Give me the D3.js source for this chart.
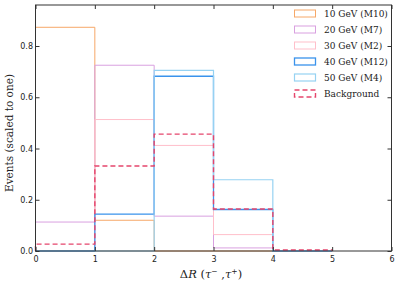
<!DOCTYPE html>
<html><head><meta charset="utf-8">
<script src="https://cdn.jsdelivr.net/npm/d3@7"></script>
<style>body{margin:0;background:#fff}</style>
</head><body>
<script>
const binEdges = [0, 1, 2, 3, 4, 5];
const seriesNames = ["10 GeV (M10)", "20 GeV (M7)", "30 GeV (M2)", "40 GeV (M12)", "50 GeV (M4)", "Background"];
const m10 = [0.873, 0.120, 0.0, 0.0, 0.0];
const m7  = [0.113, 0.725, 0.136, 0.012, 0.0];
const m2  = [0.0, 0.513, 0.412, 0.064, 0.0];
const m12 = [0.0, 0.144, 0.682, 0.162, 0.0];
const m4  = [0.0, 0.0, 0.705, 0.278, 0.0];
const bkg = [0.027, 0.332, 0.456, 0.164, 0.004];
const xTicks = [0, 1, 2, 3, 4, 5, 6];
const yTicks = [0.0, 0.2, 0.4, 0.6, 0.8];

const series = [
  {name: seriesNames[0], values: m10, color: "#f6a868", width: 1, dash: null},
  {name: seriesNames[1], values: m7,  color: "#d9a0e0", width: 1, dash: null},
  {name: seriesNames[2], values: m2,  color: "#ffbfca", width: 1, dash: null},
  {name: seriesNames[3], values: m12, color: "#3a93ec", width: 1.3, dash: null},
  {name: seriesNames[4], values: m4,  color: "#96d2f2", width: 1.2, dash: null},
  {name: seriesNames[5], values: bkg, color: "#e5456c", width: 1.4, dash: "5,3"}
];

const W = 399, H = 285;
const L = 35.5, R = 391.5, T = 5, B = 251;
const svg = d3.select("body").append("svg").attr("width", W).attr("height", H);
const x = d3.scaleLinear().domain([0, 6]).range([L, R]);
const y = d3.scaleLinear().domain([0, 0.96]).range([B, T]);

// histograms (step outlines)
series.forEach(s => {
  const pts = [[binEdges[0], 0]];
  s.values.forEach((v, i) => { pts.push([binEdges[i], v]); pts.push([binEdges[i+1], v]); });
  pts.push([binEdges[binEdges.length-1], 0]);
  svg.append("path")
    .attr("d", d3.line().x(d => x(d[0])).y(d => y(d[1]))(pts))
    .attr("fill", "none").attr("stroke", s.color).attr("stroke-width", s.width)
    .attr("stroke-dasharray", s.dash);
});

// frame
svg.append("rect").attr("x", L).attr("y", T).attr("width", R - L).attr("height", B - T)
  .attr("fill", "none").attr("stroke", "#333").attr("stroke-width", 1);

// ticks (inward, all sides)
const tickFont = "DejaVu Sans, sans-serif";
const xb = svg.append("g").attr("transform", `translate(0,${B})`)
  .call(d3.axisBottom(x).tickValues(xTicks).tickFormat(d3.format("d")).tickSizeInner(-4).tickSizeOuter(0).tickPadding(5));
const xt = svg.append("g").attr("transform", `translate(0,${T})`)
  .call(d3.axisTop(x).tickValues(xTicks).tickFormat("").tickSizeInner(-4).tickSizeOuter(0));
const yl = svg.append("g").attr("transform", `translate(${L},0)`)
  .call(d3.axisLeft(y).tickValues(yTicks).tickFormat(d3.format(".1f")).tickSizeInner(-4).tickSizeOuter(0).tickPadding(2.5));
const yr = svg.append("g").attr("transform", `translate(${R},0)`)
  .call(d3.axisRight(y).tickValues(yTicks).tickFormat("").tickSizeInner(-4).tickSizeOuter(0));
[xb, xt, yl, yr].forEach(g => {
  g.select(".domain").remove();
  g.selectAll("line").attr("stroke", "#333");
  g.selectAll("text").attr("font-family", tickFont).attr("font-size", 8).attr("fill", "#222");
});

// axis labels
const serif = "DejaVu Serif, Liberation Serif, serif";
const xl = svg.append("text").attr("x", 211).attr("y", 278).attr("text-anchor", "middle")
  .attr("font-family", serif).attr("font-size", 11.5).attr("fill", "#222");
xl.append("tspan").text("Δ");
xl.append("tspan").attr("font-style", "italic").text("R");
xl.append("tspan").text(" (");
xl.append("tspan").attr("font-style", "italic").text("τ");
xl.append("tspan").attr("font-size", 7.5).attr("dy", -4.5).text("−");
xl.append("tspan").attr("dy", 4.5).text(" ,");
xl.append("tspan").attr("font-style", "italic").text("τ");
xl.append("tspan").attr("font-size", 7.5).attr("dy", -4.5).text("+");
xl.append("tspan").attr("dy", 4.5).text(")");

svg.append("text").attr("transform", `translate(12.5,133) rotate(-90)`)
  .attr("text-anchor", "middle").attr("font-family", serif).attr("font-size", 10.5).attr("fill", "#222")
  .text("Events (scaled to one)");

// legend
const lg = svg.append("g");
series.forEach((s, i) => {
  const yy = 13.5 + i * 16;
  lg.append("rect").attr("x", 294.5).attr("y", yy - 3.5).attr("width", 21).attr("height", 7)
    .attr("fill", "none").attr("stroke", s.color).attr("stroke-width", s.width)
    .attr("stroke-dasharray", s.dash);
  lg.append("text").attr("x", 324).attr("y", yy + 3.5).attr("font-family", serif)
    .attr("font-size", 9).attr("fill", "#222").text(s.name);
});
</script>
</body></html>
